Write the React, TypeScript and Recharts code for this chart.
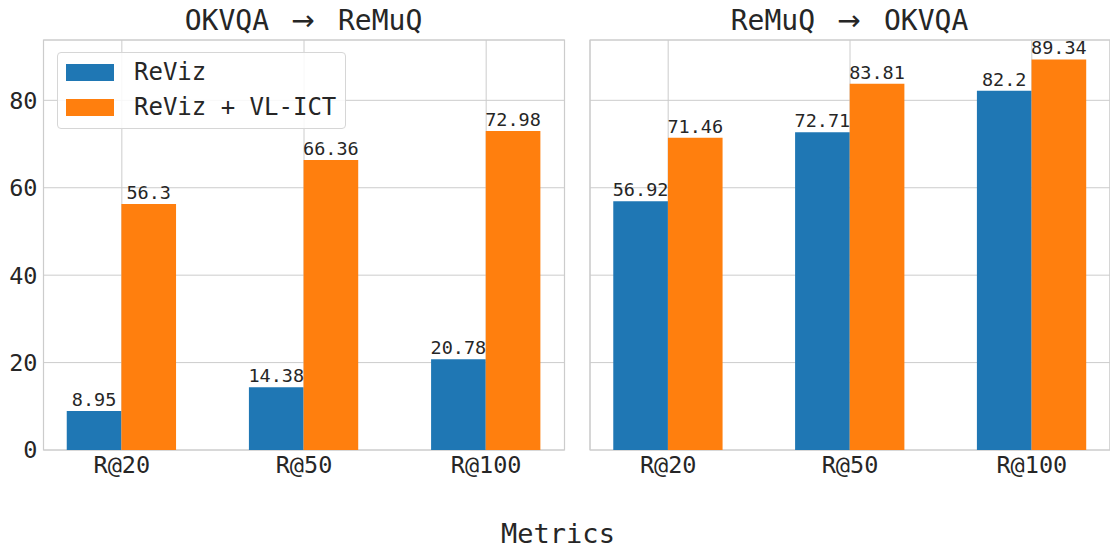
import React from 'react';
import { BarChart, Bar, XAxis, YAxis, CartesianGrid, LabelList, ReferenceArea } from 'recharts';

const categories = ['R@20', 'R@50', 'R@100'];
const okvqaToRemuqReviz = [8.95, 14.38, 20.78];
const okvqaToRemuqVlict = [56.3, 66.36, 72.98];
const remuqToOkvqaReviz = [56.92, 72.71, 82.2];
const remuqToOkvqaVlict = [71.46, 83.81, 89.34];
const yTicks = [0, 20, 40, 60, 80];
const seriesNames = ['ReViz', 'ReViz + VL-ICT'];

const BLUE = '#1f77b4';
const ORANGE = '#ff7f0e';
const GRID = '#cccccc';
const TEXT = '#262626';
const FONT = '"DejaVu Sans Mono", monospace';

const X_DOMAIN: [number, number] = [-0.43, 2.43];
const Y_DOMAIN: [number, number] = [0, 93.8];
const PLOT_W = 521;
const BAR_W = (PLOT_W * 0.3) / (X_DOMAIN[1] - X_DOMAIN[0]);

const buildRows = (a: number[], b: number[]) =>
  categories.map((c, i) => ({ x: i, label: c, reviz: a[i], vlict: b[i] }));

const leftData = buildRows(okvqaToRemuqReviz, okvqaToRemuqVlict);
const rightData = buildRows(remuqToOkvqaReviz, remuqToOkvqaVlict);

const tickStyle = { fontSize: 23.5, fill: TEXT, fontFamily: FONT };

const LegendBox = () => (
  <div
    style={{
      position: 'absolute',
      left: 57,
      top: 52,
      width: 289,
      height: 77,
      boxSizing: 'border-box',
      border: '1px solid #d6d6d6',
      borderRadius: 4,
      background: 'rgba(255,255,255,0.85)',
      fontFamily: FONT,
      fontSize: 24,
      color: TEXT,
    }}
  >
    {seriesNames.map((n, i) => (
      <div
        key={n}
        style={{ position: 'absolute', left: 8, top: 11 + i * 35, height: 17, display: 'flex', alignItems: 'center', whiteSpace: 'pre' }}
      >
        <span style={{ display: 'inline-block', width: 48, height: 16.5, background: i === 0 ? BLUE : ORANGE, marginRight: 20 }} />
        <span style={{ lineHeight: '17px' }}>{n}</span>
      </div>
    ))}
  </div>
);

type PanelProps = {
  data: any[];
  width: number;
  marginLeft: number;
  marginRight: number;
  showY: boolean;
};

const Panel = ({ data, width, marginLeft, marginRight, showY }: PanelProps) => (
  <BarChart
    width={width}
    height={490}
    data={data}
    margin={{ top: 40, right: marginRight, bottom: 0, left: marginLeft }}
    barGap={0}
    barSize={BAR_W}
    style={{ fontFamily: FONT }}
  >
    <CartesianGrid stroke={GRID} strokeWidth={1} />
    <ReferenceArea
      x1={X_DOMAIN[0]}
      x2={X_DOMAIN[1]}
      y1={Y_DOMAIN[0]}
      y2={Y_DOMAIN[1]}
      fill="none"
      stroke={GRID}
      strokeWidth={1.2}
      ifOverflow="visible"
    />
    <XAxis
      dataKey="x"
      type="number"
      domain={X_DOMAIN}
      allowDataOverflow
      ticks={[0, 1, 2]}
      interval={0}
      tickFormatter={(v: number) => categories[v]}
      tickLine={false}
      axisLine={false}
      tickSize={6}
      tickMargin={0}
      height={40}
      tick={tickStyle}
    />
    <YAxis
      type="number"
      domain={Y_DOMAIN}
      allowDataOverflow
      ticks={yTicks}
      interval={0}
      hide={!showY}
      width={43.5}
      tickLine={false}
      axisLine={false}
      tickSize={6}
      tickMargin={0}
      tick={tickStyle}
    />
    <Bar dataKey="reviz" name={seriesNames[0]} fill={BLUE} isAnimationActive={false}>
      <LabelList dataKey="reviz" position="top" offset={5} style={{ fontSize: 18.5, fill: TEXT, fontFamily: FONT }} />
    </Bar>
    <Bar dataKey="vlict" name={seriesNames[1]} fill={ORANGE} isAnimationActive={false}>
      <LabelList dataKey="vlict" position="top" offset={5} style={{ fontSize: 18.5, fill: TEXT, fontFamily: FONT }} />
    </Bar>
  </BarChart>
);

const Title = ({ cx, a, b }: { cx: number; a: string; b: string }) => (
  <g fill={TEXT} fontSize={28}>
    <text x={cx - 35} y={29.5} textAnchor="end" fontFamily={FONT}>{a}</text>
    <text x={cx - 1} y={29.5} textAnchor="middle" fontFamily='"DejaVu Sans", sans-serif'>→</text>
    <text x={cx + 34} y={29.5} textAnchor="start" fontFamily={FONT}>{b}</text>
  </g>
);

export default function App() {
  return (
    <div
      style={{
        position: 'absolute',
        left: 0,
        top: 0,
        width: 1110,
        height: 550,
        overflow: 'hidden',
        background: '#fff',
        fontFamily: FONT,
      }}
    >
      <div style={{ position: 'absolute', left: 0, top: 0 }}>
        <Panel data={leftData} width={580} marginLeft={0} marginRight={15.5} showY={true} />
      </div>
      <div style={{ position: 'absolute', left: 580, top: 0 }}>
        <Panel data={rightData} width={540} marginLeft={10} marginRight={10} showY={false} />
      </div>
      <LegendBox />
      <svg width={1110} height={550} style={{ position: 'absolute', left: 0, top: 0, pointerEvents: 'none' }}>
        <Title cx={304} a="OKVQA" b="ReMuQ" />
        <Title cx={850} a="ReMuQ" b="OKVQA" />
        <text x={558} y={543} textAnchor="middle" fontSize={27} fill={TEXT} fontFamily={FONT}>
          Metrics
        </text>
      </svg>
    </div>
  );
}
